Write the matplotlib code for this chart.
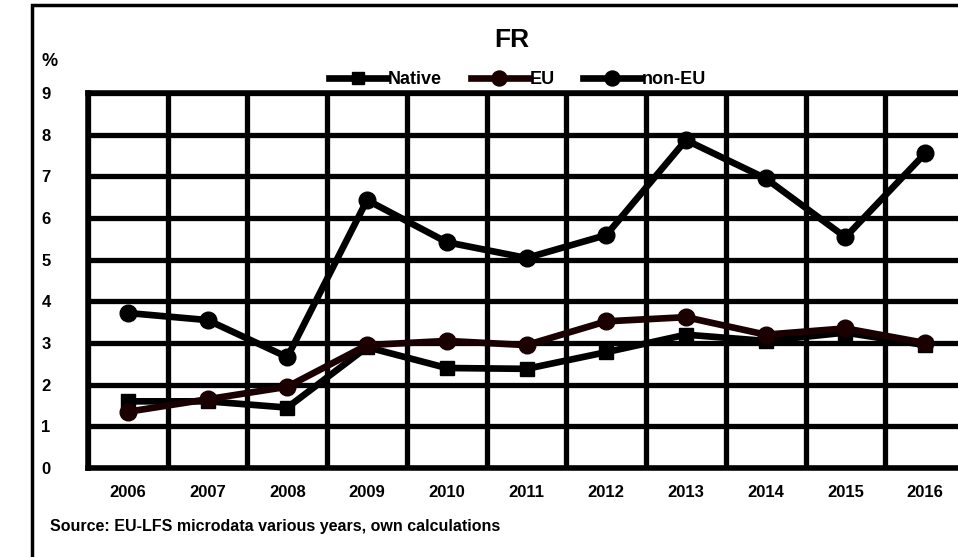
import matplotlib.pyplot as plt
from matplotlib.patches import Rectangle

# =================================
# DATA
# =================================

years = ["2006", "2007", "2008", "2009", "2010", "2011",
         "2012", "2013", "2014", "2015", "2016"]

native = [1.60, 1.60, 1.45, 2.90, 2.40, 2.38, 2.78, 3.20, 3.05, 3.25, 2.95]
eu = [1.35, 1.65, 1.95, 2.95, 3.05, 2.95, 3.52, 3.62, 3.20, 3.35, 3.00]
non_eu = [3.72, 3.55, 2.66, 6.43, 5.42, 5.04, 5.59, 7.87, 6.95, 5.54, 7.55]

y_ticks = [0, 1, 2, 3, 4, 5, 6, 7, 8, 9]

source_text = "Source: EU-LFS microdata various years, own calculations"

# =================================
# FIGURE
# =================================

plt.rcParams["font.family"] = ["Liberation Sans", "DejaVu Sans"]
plt.rcParams["font.weight"] = "bold"

W, H = 958, 557
fig = plt.figure(figsize=(W / 100, H / 100), dpi=100)

# plot area in pixel terms: left 88, right 965 (runs past the edge), top 93, bottom 468
ax = fig.add_axes([88 / W, (H - 468) / H, (965 - 88) / W, (468 - 93) / H])

x = list(range(len(years)))

ax.plot(x, native, color="black", lw=4.8, marker="s", markersize=10, label="Native", zorder=3)
ax.plot(x, eu, color="#1a0000", lw=4.8, marker="o", markersize=12, label="EU", zorder=4)
ax.plot(x, non_eu, color="black", lw=4.8, marker="o", markersize=12, label="non-EU", zorder=5)

ax.set_xlim(-0.5, len(years) - 0.5)
ax.set_ylim(0, 9)
ax.set_yticks(y_ticks)
ax.set_xticks(x)
ax.set_xticklabels(years, fontsize=12, fontweight="bold")
ax.set_yticklabels([str(v) for v in y_ticks], fontsize=12, fontweight="bold")
ax.tick_params(axis="y", length=0, pad=27)
ax.tick_params(axis="x", length=0, pad=12)

# gridlines: horizontal at every unit, vertical between the years
ax.set_xticks([i + 0.5 for i in range(-1, len(years))], minor=True)
ax.grid(True, axis="y", color="black", lw=3.8, zorder=1)
ax.grid(True, axis="x", which="minor", color="black", lw=3.8, zorder=1)
ax.tick_params(axis="x", which="minor", length=0)

for side in ["left", "bottom", "top", "right"]:
    ax.spines[side].set_linewidth(4)
    ax.spines[side].set_color("black")

# legend row above the plot area
ax.legend(loc="center left", bbox_to_anchor=(320 / W, 1 - 80 / H), bbox_transform=fig.transFigure,
          ncol=3, frameon=False, handlelength=3.2, handletextpad=0.05, borderpad=0,
          columnspacing=1.6, markerscale=0.9, prop={"weight": "bold", "size": 13})

# =================================
# TEXTS
# =================================

fig.text(512 / W, 1 - 40 / H, "FR", ha="center", va="center", fontsize=19, fontweight="bold")
fig.text(50 / W, 1 - 62 / H, "%", ha="center", va="center", fontsize=13, fontweight="bold")
fig.text(50 / W, 1 - 527 / H, source_text, ha="left", va="center", fontsize=11.5, fontweight="bold")

# outer chart frame
fig.add_artist(Rectangle((32 / W, -0.05), 1.1, 1 - 5 / H + 0.05, transform=fig.transFigure,
                         fill=False, edgecolor="black", lw=2.5))

plt.savefig("out.png", dpi=100)
